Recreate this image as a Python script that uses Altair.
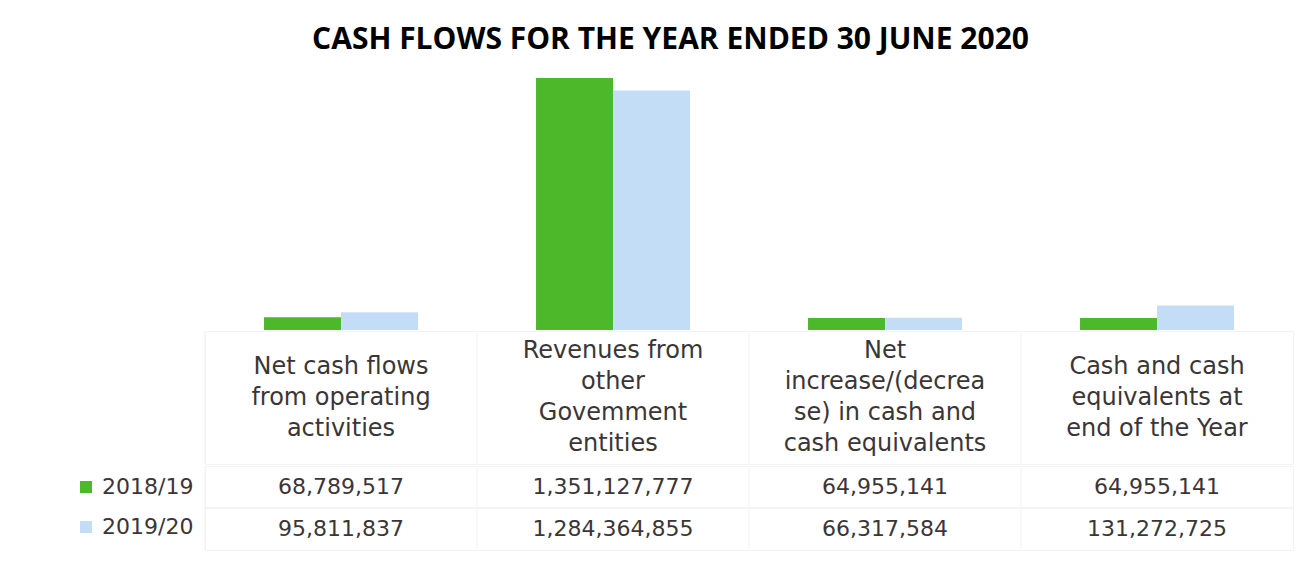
import altair as alt
import pandas as pd

# ---- data ----
categories = [
    "Net cash flows\nfrom operating\nactivities",
    "Revenues from\nother\nGovemment\nentities",
    "Net\nincrease/(decrea\nse) in cash and\ncash equivalents",
    "Cash and cash\nequivalents at\nend of the Year",
]
series = ["2018/19", "2019/20"]
values_2018_19 = [68789517, 1351127777, 64955141, 64955141]
values_2019_20 = [95811837, 1284364855, 66317584, 131272725]
colors = ["#4cb82a", "#c3ddf7"]

rows = []
for c, a, b in zip(categories, values_2018_19, values_2019_20):
    rows.append({"category": c, "series": series[0], "value": a})
    rows.append({"category": c, "series": series[1], "value": b})
df = pd.DataFrame(rows)
df_cat = pd.DataFrame({"category": categories,
                       "nlines": [c.count("\n") + 1 for c in categories]})

FONT = "DejaVu Sans"
TXT = "#3b3636"
W = 1088
GRID = "#f3f3f3"
LH = 31
FS = 24

xband = alt.Scale(paddingInner=0, paddingOuter=0)

bars = alt.Chart(df).mark_bar().encode(
    x=alt.X("category:N", sort=categories, axis=None,
            scale=alt.Scale(paddingInner=0.434, paddingOuter=0.217)),
    xOffset=alt.XOffset("series:N", sort=series,
                        scale=alt.Scale(paddingInner=0, paddingOuter=0)),
    y=alt.Y("value:Q", axis=None,
            scale=alt.Scale(domain=[0, max(values_2018_19 + values_2019_20)], nice=False, zero=True)),
    color=alt.Color("series:N", sort=series,
                    scale=alt.Scale(domain=series, range=colors),
                    legend=alt.Legend(title=None, orient="none", legendX=-130, legendY=398,
                                      symbolType="square", symbolSize=144, symbolStrokeWidth=0,
                                      labelFontSize=22, labelFont=FONT, labelColor=TXT,
                                      labelOffset=5, rowPadding=18, padding=0)),
).properties(width=W, height=252, view=alt.ViewBackground(stroke=None))

vrules_b = alt.Chart(df_cat).mark_rule(color=GRID, strokeWidth=1).encode(
    x=alt.X("category:N", sort=categories, axis=None, scale=xband, bandPosition=0),
)

label_layers = [vrules_b]
for n in sorted(set(df_cat["nlines"])):
    label_layers.append(
        alt.Chart(df_cat).transform_filter(alt.datum.nlines == n).mark_text(
            lineBreak="\n", lineHeight=LH, fontSize=FS, font=FONT, color=TXT,
            baseline="middle", dy=-(n - 1) / 2 * LH,
        ).encode(
            x=alt.X("category:N", sort=categories, axis=None, scale=xband),
            text="category:N",
        )
    )
labels = alt.layer(*label_layers).properties(
    width=W, height=133, view=alt.ViewBackground(stroke=GRID))

vrules_c = alt.Chart(df_cat).mark_rule(color=GRID, strokeWidth=1).encode(
    x=alt.X("category:N", sort=categories, axis=None, scale=xband, bandPosition=0),
)
hrule_c = alt.Chart(df).transform_filter(alt.datum.series == series[1]).mark_rule(
    color=GRID, strokeWidth=1).encode(
    y=alt.Y("series:N", sort=series, axis=None,
            scale=alt.Scale(paddingInner=0, paddingOuter=0), bandPosition=0),
)
values_text = alt.Chart(df).mark_text(
    fontSize=22, font=FONT, color=TXT, baseline="middle"
).encode(
    x=alt.X("category:N", sort=categories, axis=None, scale=xband),
    y=alt.Y("series:N", sort=series, axis=None,
            scale=alt.Scale(paddingInner=0, paddingOuter=0)),
    text=alt.Text("value:Q", format=","),
)
table = alt.layer(vrules_c, hrule_c, values_text).properties(
    width=W, height=84, view=alt.ViewBackground(stroke=GRID))

chart = alt.vconcat(bars, labels, table, spacing=0).properties(
    title=alt.TitleParams("CASH FLOWS FOR THE YEAR ENDED 30 JUNE 2020", font="Open Sans",
                          fontSize=30, fontWeight="bold", color="black", anchor="middle",
                          offset=23, dx=-14),
    padding={"left": 67, "top": 17, "right": 5, "bottom": 5},
    background="white",
)

chart.save("out.html", embed_options={"renderer": "svg", "actions": False})
